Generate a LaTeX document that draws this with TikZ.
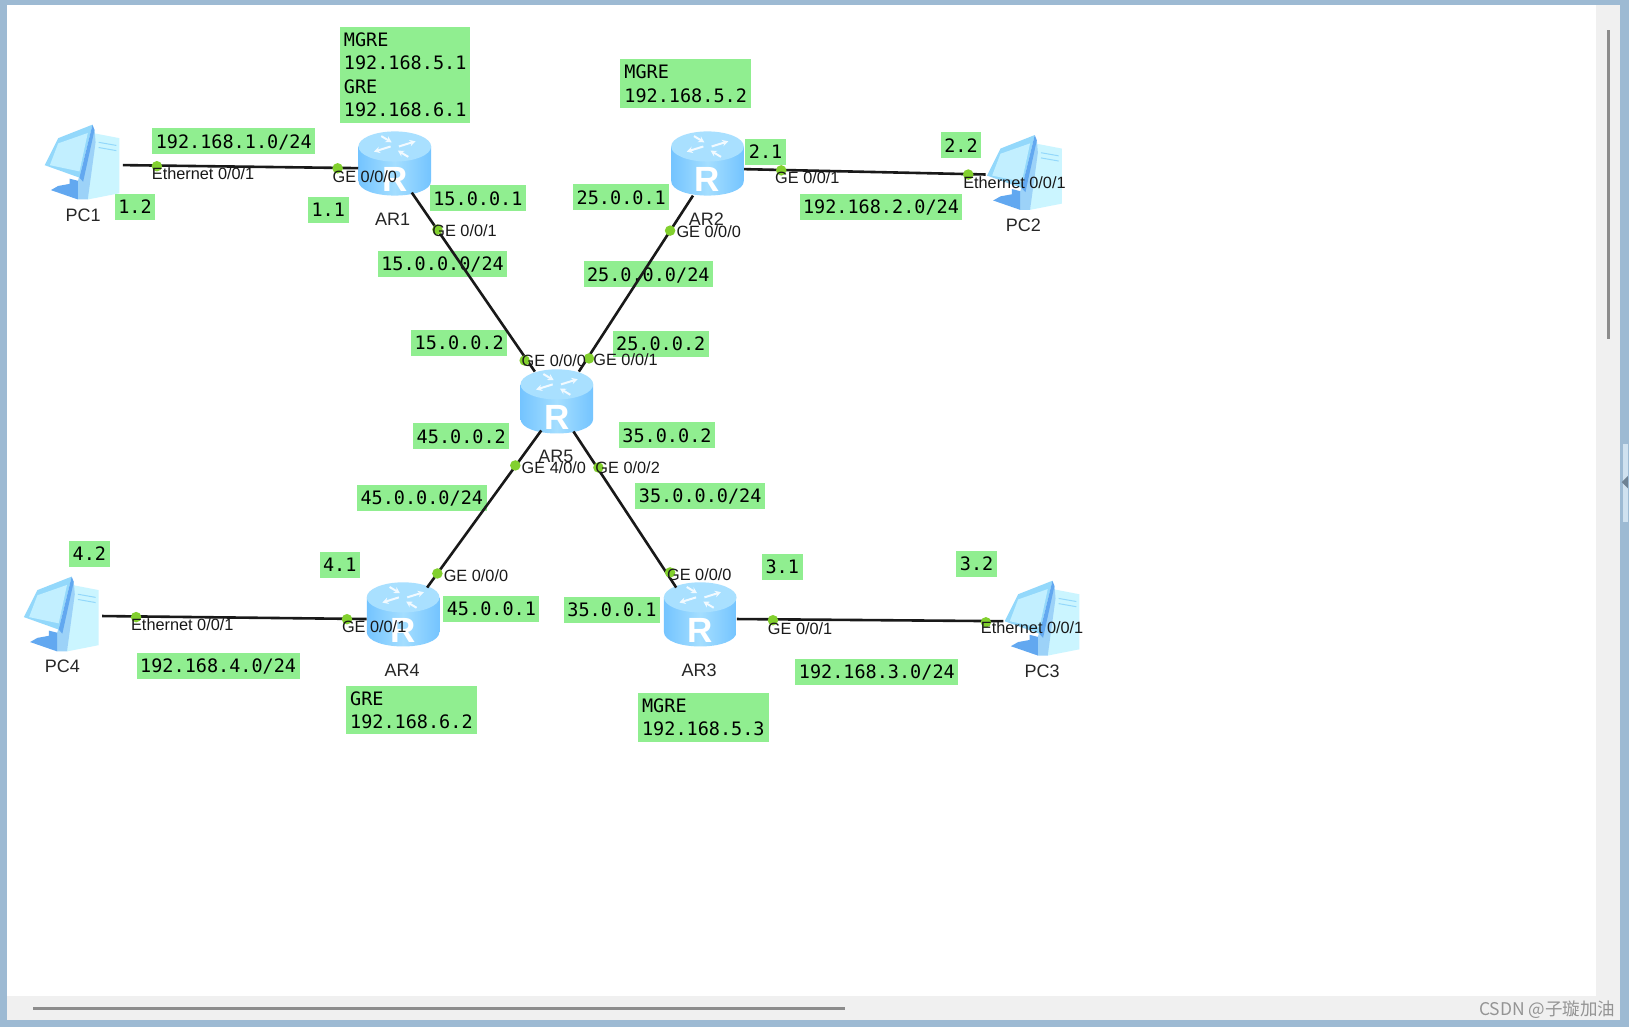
\documentclass[tikz,border=0pt]{standalone}
\usepackage{fontspec}
\setmainfont{Liberation Sans}
\newfontfamily\lblfont{DejaVu Sans Mono}
\newfontfamily\cjk{Noto Sans CJK SC}
\usepackage{xcolor}
\usetikzlibrary{arrows.meta}
\definecolor{lblgreen}{HTML}{90EE90}
\definecolor{dotgreen}{HTML}{82D02E}
\definecolor{framebl}{HTML}{9DBAD3}
\definecolor{framelt}{HTML}{CFE1EF}
\definecolor{barbg}{HTML}{F0F0F0}
\definecolor{barfg}{HTML}{8C8C8C}
\definecolor{rtop}{HTML}{A9E0FF}
\definecolor{rside}{HTML}{74C4FF}
\definecolor{rmid}{HTML}{A4DEFF}
\definecolor{pcscr}{HTML}{C2EFFF}
\definecolor{pcblue}{HTML}{93D8FB}
\definecolor{pcdark}{HTML}{62A8F0}
\definecolor{pctow}{HTML}{CBF5FF}

\begin{document}
\begin{tikzpicture}[x=1.039pt,y=-1.039pt,
  lbl/.style={fill=lblgreen,inner xsep=3.5pt,inner ysep=0pt,minimum height=26pt,text height=13.5pt,text depth=0pt,
              font=\lblfont\fontsize{18.5}{23.4}\selectfont},
  lblm/.style={fill=lblgreen,inner xsep=4pt,inner ysep=5.6pt,align=left,anchor=north west,
              font=\lblfont\fontsize{18.5}{23.4}\selectfont},
  port/.style={circle,fill=dotgreen,inner sep=0pt,minimum size=10.5pt},
  iface/.style={anchor=west,inner sep=0pt,font=\fontsize{16.3}{18}\selectfont,text=black!90},
  devname/.style={inner sep=0pt,font=\fontsize{18}{20}\selectfont,text=black!85},
  lnk/.style={line width=2.6pt,draw=black!90},
  arw/.style={white!85!rtop,line width=2pt,-{Stealth[length=6pt,width=6.5pt]}},
  router/.style={inner sep=0pt,minimum width=72.7pt,minimum height=66.5pt,path picture={
    \shade[left color=rside,right color=rside,middle color=rmid]
      (-35,-17) -- (-35,16) .. controls (-35,35) and (35,35) .. (35,16) -- (35,-17) -- cycle;
    \fill[rtop] (0,-17) ellipse [x radius=35,y radius=14.5];
    \draw[arw] (-4,-17) -- (-20,-12);
    \draw[arw] (4,-17) -- (20,-22);
    \draw[arw] (-13,-27) -- (-3,-21);
    \draw[arw] (13,-7) -- (3,-13);
    \node (rlet) at (0,15) [white,inner sep=0pt,font=\bfseries\fontsize{35}{35}\selectfont] {R};
  }},
  pcbox/.style={inner sep=0pt,minimum width=79pt,minimum height=79pt,path picture={
    \fill[pctow] (9,-29) -- (35,-24) -- (35,29) -- (4.5,35) -- cycle;
    \fill[pcdark!45!pctow] (11,-32) -- (-5,17) -- (-5,35) -- (4.5,35) -- (12,-20) -- cycle;
    \fill[pcblue] (-24,-24) -- (9,-37) -- (-3.5,14) -- (-37,2) -- cycle;
    \fill[pcscr] (-24,-19) -- (4.5,-29) -- (-3.5,8) -- (-32,2) -- cycle;
    \fill[pcdark] (9,-37) -- (11,-32) -- (0,18) -- (-3.5,14) -- cycle;
    \fill[pcdark] (-13,15) -- (-5,17) -- (-5,35) -- (-31,26) -- (-24,22) -- (-13,20) -- cycle;
    \draw[pcblue,line width=1pt] (15,-20) -- (32,-17) (15,-15) -- (32,-12);
  }}]
\useasboundingbox (0,0) rectangle (1568,989);
% window frame and scroll bars
\fill[framebl] (0,0) rectangle (1568,989);
\fill[framelt] (1562,427) rectangle (1567,502);
\fill[framebl!70!black] (1561,464) -- (1567,458) -- (1567,470) -- cycle;
\fill[white] (7,5) rectangle (1559,982);
\fill[barbg] (1536,5) rectangle (1559,982);
\fill[barbg] (7,959) rectangle (1559,982);
\fill[barfg] (1546.5,29) rectangle (1549.5,326);
\fill[barfg] (32,969) rectangle (813,972.5);
\node[anchor=east,inner sep=0pt,text=black!42,font=\cjk\fontsize{17.5}{20}\selectfont] (mark) at (1555,972) {CSDN @子璇加油};
% address labels
\node[lblm] (t1) at (327,26) {MGRE\\192.168.5.1\\GRE\\192.168.6.1};
\node[lblm] (t2) at (597,57) {MGRE\\192.168.5.2};
\node[lblm] (t4) at (333,660) {GRE\\192.168.6.2};
\node[lblm] (t3) at (614,667) {MGRE\\192.168.5.3};
\node[lbl] (n1)  at (225,136) {192.168.1.0/24};
\node[lbl] (n2)  at (848,199) {192.168.2.0/24};
\node[lbl] (n3)  at (844,647) {192.168.3.0/24};
\node[lbl] (n4)  at (210,641) {192.168.4.0/24};
\node[lbl] (n15) at (426,254) {15.0.0.0/24};
\node[lbl] (n25) at (624,264) {25.0.0.0/24};
\node[lbl] (n35) at (674,477) {35.0.0.0/24};
\node[lbl] (n45) at (406,479) {45.0.0.0/24};
\node[lbl] (a12) at (130,199) {1.2};
\node[lbl] (a11) at (316,202) {1.1};
\node[lbl] (a21) at (737,146) {2.1};
\node[lbl] (a22) at (925,140) {2.2};
\node[lbl] (a31) at (753,546) {3.1};
\node[lbl] (a32) at (940,543) {3.2};
\node[lbl] (a41) at (327,544) {4.1};
\node[lbl] (a42) at (86,533)  {4.2};
\node[lbl] (b151) at (460,191) {15.0.0.1};
\node[lbl] (b152) at (442,330) {15.0.0.2};
\node[lbl] (b251) at (598,190) {25.0.0.1};
\node[lbl] (b252) at (636,331) {25.0.0.2};
\node[lbl] (b352) at (642,419) {35.0.0.2};
\node[lbl] (b351) at (589,587) {35.0.0.1};
\node[lbl] (b452) at (444,420) {45.0.0.2};
\node[lbl] (b451) at (473,586) {45.0.0.1};
% devices
\node[router] (ar1) at (380,158) {};
\node[router] (ar2) at (681,158) {};
\node[router] (ar5) at (536,387) {};
\node[router] (ar4) at (388,592) {};
\node[router] (ar3) at (674,592) {};
\node[pcbox] (pc1) at (80,157)  {};
\node[pcbox] (pc2) at (987,167) {};
\node[pcbox] (pc3) at (1004,596) {};
\node[pcbox] (pc4) at (60,592)  {};
\node[devname] (la1) at (378,211) {AR1};
\node[devname] (la2) at (680,211) {AR2};
\node[devname] (la5) at (535,439) {AR5};
\node[devname] (la4) at (387,645) {AR4};
\node[devname] (la3) at (673,645) {AR3};
\node[devname] (lp1) at (80,207)  {PC1};
\node[devname] (lp2) at (985,217) {PC2};
\node[devname] (lp3) at (1003,646) {PC3};
\node[devname] (lp4) at (60,641)  {PC4};
% links
\draw[lnk] ([yshift=-2pt]pc1.east) -- ([yshift=-4pt]ar1.west);
\draw[lnk] ([yshift=-5pt]ar2.east) -- ([yshift=-1pt]pc2.west);
\draw[lnk] ([yshift=-4pt]ar3.east) -- ([yshift=-2pt]pc3.west);
\draw[lnk] ([yshift=-1pt]pc4.east) -- ([yshift=-4pt]ar4.west);
\draw[lnk] ([xshift=17pt,yshift=5pt]ar1.south) -- ([xshift=-22pt,yshift=-3pt]ar5.north);
\draw[lnk] ([xshift=-14.5pt,yshift=2pt]ar2.south) -- ([xshift=22pt,yshift=-3pt]ar5.north);
\draw[lnk] ([xshift=-15.6pt,yshift=5pt]ar5.south) -- ([xshift=24pt,yshift=-6pt]ar4.north);
\draw[lnk] ([xshift=16.6pt,yshift=4pt]ar5.south) -- ([xshift=-24pt,yshift=-6pt]ar3.north);
% ports
\node[port] (p1) at (151,160) {};
\node[port] (p2) at (325,162) {};
\node[port] (p3) at (421,221) {};
\node[port] (p4) at (505,347) {};
\node[port] (p5) at (645,222) {};
\node[port] (p6) at (567,345) {};
\node[port] (p7) at (752,164) {};
\node[port] (p8) at (932,168) {};
\node[port] (p9) at (496,448) {};
\node[port] (p10) at (576,450) {};
\node[port] (p11) at (421,552) {};
\node[port] (p12) at (645,551) {};
\node[port] (p13) at (131,594) {};
\node[port] (p14) at (334,596) {};
\node[port] (p15) at (744,597) {};
\node[port] (p16) at (949,599) {};
\node[iface] (i1) at (146,167) {Ethernet 0/0/1};
\node[iface] (i2) at (320,170) {GE 0/0/0};
\node[iface] (i3) at (416,222) {GE 0/0/1};
\node[iface] (i4) at (502,347) {GE 0/0/0};
\node[iface] (i5) at (651,223) {GE 0/0/0};
\node[iface] (i6) at (571,346) {GE 0/0/1};
\node[iface] (i7) at (746,171) {GE 0/0/1};
\node[iface] (i8) at (927,176) {Ethernet 0/0/1};
\node[iface] (i9) at (502,450) {GE 4/0/0};
\node[iface] (i10) at (573,450) {GE 0/0/2};
\node[iface] (i11) at (427,554) {GE 0/0/0};
\node[iface] (i12) at (642,553) {GE 0/0/0};
\node[iface] (i13) at (126,601) {Ethernet 0/0/1};
\node[iface] (i14) at (329,603) {GE 0/0/1};
\node[iface] (i15) at (739,605) {GE 0/0/1};
\node[iface] (i16) at (944,604) {Ethernet 0/0/1};
\end{tikzpicture}
\end{document}
